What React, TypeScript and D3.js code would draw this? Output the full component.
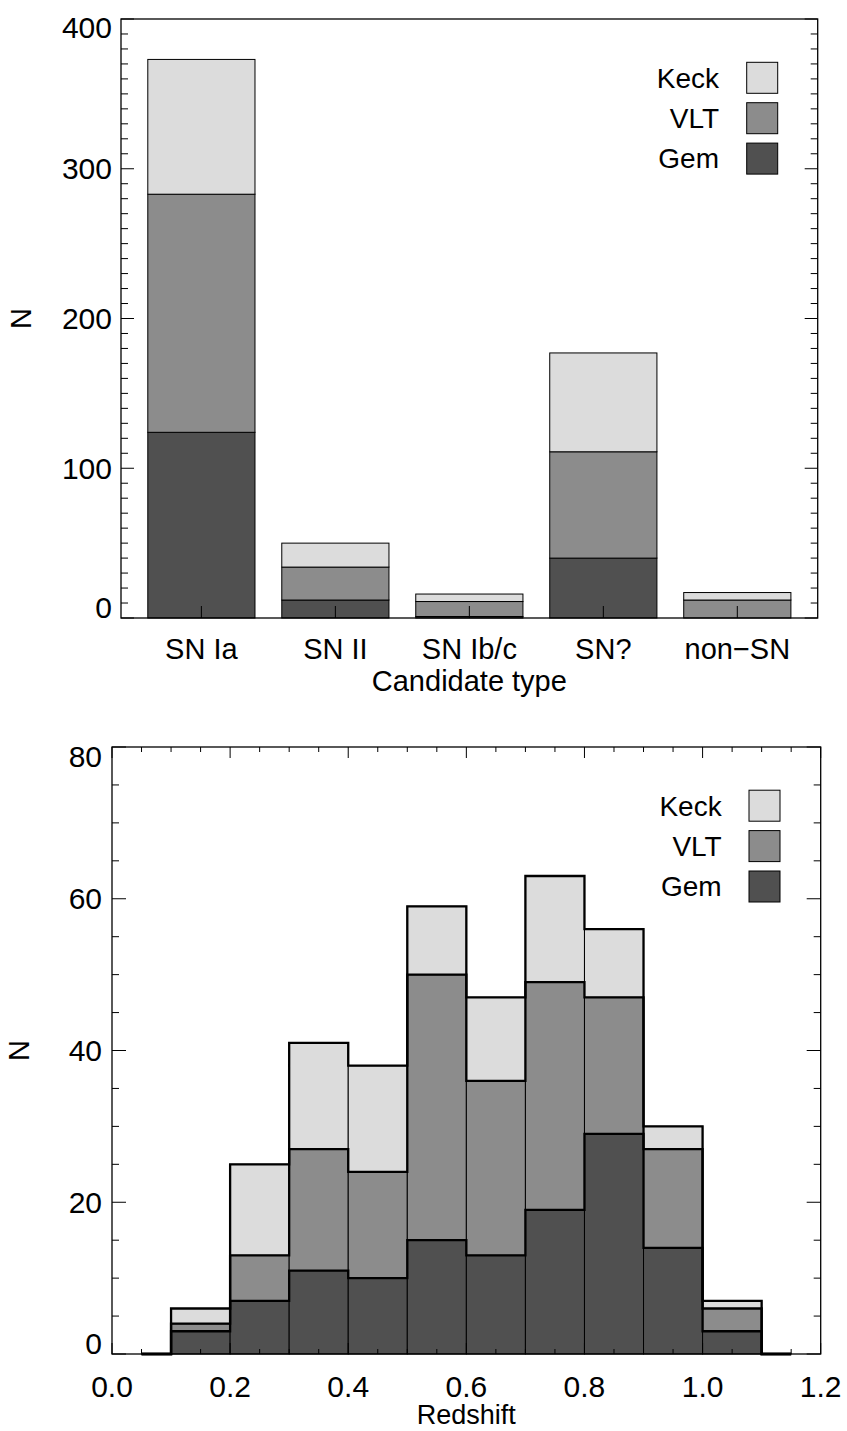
import React from "react";
import * as d3 from "d3";

// ---- Data: candidate types (top panel) ----
const categories = ["SN Ia", "SN II", "SN Ib/c", "SN?", "non\u2212SN"];
const gemByType = [124, 12, 1, 40, 0];
const vltByType = [159, 22, 10, 71, 12];
const keckByType = [90, 16, 5, 66, 5];

// ---- Data: redshift histogram (bottom panel), bin centres, width 0.1 ----
const zBinCenters = [0.05, 0.15, 0.25, 0.35, 0.45, 0.55, 0.65, 0.75, 0.85, 0.95, 1.05, 1.15];
const gemByZ = [0, 3, 7, 11, 10, 15, 13, 19, 29, 14, 3, 0];
const vltByZ = [0, 1, 6, 16, 14, 35, 23, 30, 18, 13, 3, 0];
const keckByZ = [0, 2, 12, 14, 14, 9, 11, 14, 9, 3, 1, 0];

const topYTicks = [0, 100, 200, 300, 400];
const botYTicks = [0, 20, 40, 60, 80];
const botXTicks = [0, 0.2, 0.4, 0.6, 0.8, 1.0, 1.2];

const telescopes = ["Keck", "VLT", "Gem"];
const colors: Record<string, string> = { Keck: "#dcdcdc", VLT: "#8c8c8c", Gem: "#505050" };
const FONT = "'Liberation Sans', Arial, Helvetica, sans-serif";
const keys = ["Gem", "VLT", "Keck"];
const NUM = 30;
const LAB = 29;

function Legend({ textRight, boxX, y0, step }: { textRight: number; boxX: number; y0: number; step: number }) {
  return (
    <g>
      {telescopes.map((t, i) => (
        <g key={t}>
          <text x={textRight} y={y0 + i * step} dy="0.35em" textAnchor="end" fontSize={28} fontFamily={FONT}>
            {t}
          </text>
          <rect x={boxX} y={y0 + i * step - 15.5} width={31} height={31} fill={colors[t]} stroke="#000" strokeWidth={1} />
        </g>
      ))}
    </g>
  );
}

function TopChart() {
  const L = 121, R = 817.7, T = 19, B = 618;
  const x = d3.scaleLinear().domain([0.4, 5.6]).range([L, R]);
  const y = d3.scaleLinear().domain([0, 400]).range([B, T]);
  const rows = categories.map((c, i) => ({ cat: c, idx: i + 1, Gem: gemByType[i], VLT: vltByType[i], Keck: keckByType[i] }));
  const stacked = d3.stack<any>().keys(keys)(rows);
  const half = 0.4;
  const minor = d3.range(0, 401, 10);
  return (
    <g>
      {stacked.map((layer) =>
        layer.map((d, i) =>
          d[1] - d[0] > 0 ? (
            <rect
              key={layer.key + i}
              x={x(rows[i].idx - half)}
              width={x(rows[i].idx + half) - x(rows[i].idx - half)}
              y={y(d[1])}
              height={y(d[0]) - y(d[1])}
              fill={colors[layer.key]}
              stroke="#000"
              strokeWidth={1}
            />
          ) : null
        )
      )}
      <rect x={L} y={T} width={R - L} height={B - T} fill="none" stroke="#000" strokeWidth={1.3} />
      {minor.map((v) => {
        const len = v % 100 === 0 ? 13 : 7;
        return (
          <g key={v}>
            <line x1={L} x2={L + len} y1={y(v)} y2={y(v)} stroke="#000" strokeWidth={1} />
            <line x1={R} x2={R - len} y1={y(v)} y2={y(v)} stroke="#000" strokeWidth={1} />
          </g>
        );
      })}
      {topYTicks.map((v, i) => {
        let yy = y(v);
        if (i === 0) yy -= 11;
        if (i === topYTicks.length - 1) yy += 8;
        return (
          <text key={v} x={L - 9} y={yy} dy="0.35em" textAnchor="end" fontSize={NUM} fontFamily={FONT}>
            {v}
          </text>
        );
      })}
      {rows.map((r) => (
        <g key={r.cat}>
          <line x1={x(r.idx)} x2={x(r.idx)} y1={B} y2={B - 12} stroke="#000" strokeWidth={1} />
          <text x={x(r.idx)} y={649} dy="0.35em" textAnchor="middle" fontSize={LAB} fontFamily={FONT}>
            {r.cat}
          </text>
        </g>
      ))}
      <text x={(L + R) / 2} y={681} dy="0.35em" textAnchor="middle" fontSize={LAB} fontFamily={FONT}>
        Candidate type
      </text>
      <text transform={`translate(21,${(T + B) / 2}) rotate(-90)`} dy="0.35em" textAnchor="middle" fontSize={LAB} fontFamily={FONT}>
        N
      </text>
      <Legend textRight={719} boxX={746.7} y0={77.8} step={40.4} />
    </g>
  );
}

function BottomChart() {
  const L = 112, R = 820.7, T = 747, B = 1354;
  const x = d3.scaleLinear().domain([0, 1.2]).range([L, R]);
  const y = d3.scaleLinear().domain([0, 80]).range([B, T]);
  const rows = zBinCenters.map((z, i) => ({ z, Gem: gemByZ[i], VLT: vltByZ[i], Keck: keckByZ[i] }));
  const stacked = d3.stack<any>().keys(keys)(rows);
  const w = 0.05;
  const line = d3
    .line<[number, number]>()
    .x((d) => x(d[0]))
    .y((d) => y(d[1]))
    .curve(d3.curveStep);
  const yMinor = d3.range(0, 81, 5);
  const xMinor = d3.range(0, 24.5, 1).map((k) => k * 0.05);
  return (
    <g>
      {stacked.map((layer) =>
        layer.map((d, i) =>
          d[1] - d[0] > 0 ? (
            <rect
              key={layer.key + i}
              x={x(rows[i].z - w)}
              width={x(rows[i].z + w) - x(rows[i].z - w)}
              y={y(d[1])}
              height={y(d[0]) - y(d[1])}
              fill={colors[layer.key]}
              stroke="#000"
              strokeWidth={1}
            />
          ) : null
        )
      )}
      {stacked.map((layer) => (
        <path
          key={"o" + layer.key}
          d={line(layer.map((d, i) => [rows[i].z, d[1]] as [number, number])) || ""}
          fill="none"
          stroke="#000"
          strokeWidth={2.3}
        />
      ))}
      <rect x={L} y={T} width={R - L} height={B - T} fill="none" stroke="#000" strokeWidth={1.3} />
      {yMinor.map((v) => {
        const len = v % 20 === 0 ? 14 : 7;
        return (
          <g key={v}>
            <line x1={L} x2={L + len} y1={y(v)} y2={y(v)} stroke="#000" strokeWidth={1} />
            <line x1={R} x2={R - len} y1={y(v)} y2={y(v)} stroke="#000" strokeWidth={1} />
          </g>
        );
      })}
      {xMinor.map((v, k) => {
        const len = k % 4 === 0 ? 11 : 5;
        return (
          <g key={k}>
            <line x1={x(v)} x2={x(v)} y1={B} y2={B - len} stroke="#000" strokeWidth={1} />
            <line x1={x(v)} x2={x(v)} y1={T} y2={T + len} stroke="#000" strokeWidth={1} />
          </g>
        );
      })}
      {botYTicks.map((v, i) => {
        let yy = y(v);
        if (i === 0) yy -= 11;
        if (i === botYTicks.length - 1) yy += 9;
        return (
          <text key={v} x={L - 10} y={yy} dy="0.35em" textAnchor="end" fontSize={NUM} fontFamily={FONT}>
            {v}
          </text>
        );
      })}
      {botXTicks.map((v) => (
        <text key={v} x={x(v)} y={1386} dy="0.35em" textAnchor="middle" fontSize={NUM} fontFamily={FONT}>
          {v.toFixed(1)}
        </text>
      ))}
      <text x={(L + R) / 2} y={1415} dy="0.35em" textAnchor="middle" fontSize={27} fontFamily={FONT}>
        Redshift
      </text>
      <text transform={`translate(19,${(T + B) / 2}) rotate(-90)`} dy="0.35em" textAnchor="middle" fontSize={LAB} fontFamily={FONT}>
        N
      </text>
      <Legend textRight={721.7} boxX={749} y0={805.7} step={40.4} />
    </g>
  );
}

export default function App() {
  return (
    <svg
      width={847}
      height={1431}
      viewBox="0 0 847 1431"
      style={{ position: "absolute", left: 0, top: 0, display: "block", background: "#fff" }}
    >
      <rect width={847} height={1431} fill="#fff" />
      <TopChart />
      <BottomChart />
    </svg>
  );
}
